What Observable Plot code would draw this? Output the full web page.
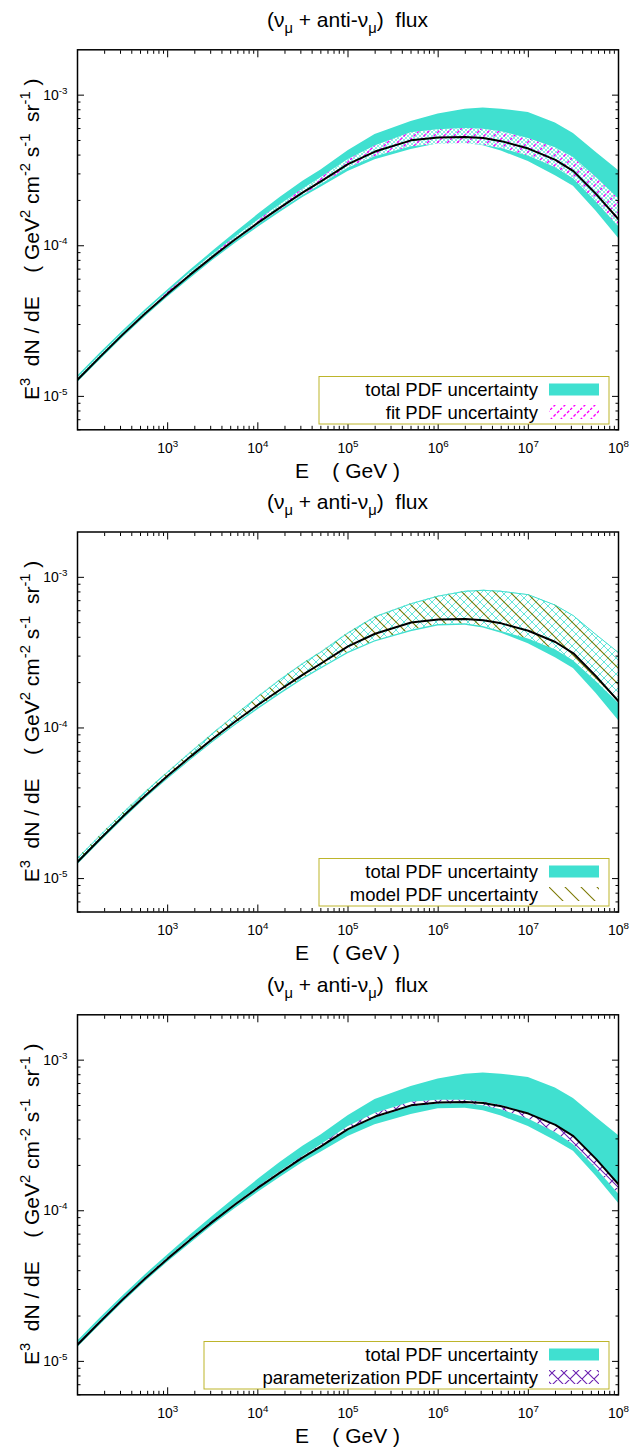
<!DOCTYPE html>
<html>
<head>
<meta charset="utf-8">
<script src="https://cdn.jsdelivr.net/npm/d3@7"></script>
<script src="https://cdn.jsdelivr.net/npm/@observablehq/plot@0.6"></script>
<style>
  body { margin: 0; background: #fff; }
  #chart { width: 630px; position: relative; }
  #chart svg.plotsvg { display: block; overflow: visible; }
</style>
</head>
<body>
<svg width="0" height="0" style="position:absolute" id="defs-holder"><defs id="pat-defs"></defs></svg>
<div id="chart"></div>
<script>
// ---------------- data ----------------
const energy     = [100, 177.8, 316.2, 562.3, 1e3, 1778, 3162, 5623, 1e4, 1.778e4, 3.162e4, 5.012e4, 1e5, 1.995e5, 5.012e5, 1e6, 1.995e6, 3.162e6, 5.012e6, 1e7, 1.995e7, 3.162e7, 5.623e7, 1e8];
const central    = [1.29e-5, 1.83e-5, 2.57e-5, 3.55e-5, 4.81e-5, 6.43e-5, 8.47e-5, 1.104e-4, 1.42e-4, 1.80e-4, 2.26e-4, 2.68e-4, 3.48e-4, 4.22e-4, 5.01e-4, 5.24e-4, 5.28e-4, 5.19e-4, 4.95e-4, 4.42e-4, 3.72e-4, 3.13e-4, 2.21e-4, 1.50e-4];
const totalHigh  = [1.36e-5, 1.93e-5, 2.71e-5, 3.75e-5, 5.09e-5, 6.87e-5, 9.18e-5, 1.22e-4, 1.61e-4, 2.10e-4, 2.68e-4, 3.19e-4, 4.27e-4, 5.47e-4, 6.68e-4, 7.50e-4, 8.07e-4, 8.20e-4, 8.07e-4, 7.67e-4, 6.53e-4, 5.56e-4, 4.17e-4, 3.16e-4];
const totalLow   = [1.23e-5, 1.74e-5, 2.44e-5, 3.37e-5, 4.55e-5, 6.05e-5, 7.98e-5, 1.035e-4, 1.32e-4, 1.67e-4, 2.09e-4, 2.45e-4, 3.11e-4, 3.72e-4, 4.35e-4, 4.75e-4, 4.80e-4, 4.61e-4, 4.25e-4, 3.63e-4, 2.92e-4, 2.48e-4, 1.70e-4, 1.12e-4];
const fitHigh    = [1.32e-5, 1.87e-5, 2.62e-5, 3.62e-5, 4.92e-5, 6.59e-5, 8.71e-5, 1.14e-4, 1.47e-4, 1.87e-4, 2.37e-4, 2.83e-4, 3.73e-4, 4.60e-4, 5.62e-4, 5.90e-4, 6.01e-4, 5.93e-4, 5.71e-4, 5.16e-4, 4.47e-4, 3.86e-4, 2.85e-4, 2.05e-4];
const fitLow     = [1.27e-5, 1.80e-5, 2.52e-5, 3.48e-5, 4.70e-5, 6.27e-5, 8.24e-5, 1.07e-4, 1.37e-4, 1.73e-4, 2.16e-4, 2.54e-4, 3.27e-4, 3.90e-4, 4.55e-4, 4.72e-4, 4.76e-4, 4.65e-4, 4.42e-4, 3.94e-4, 3.31e-4, 2.79e-4, 1.97e-4, 1.34e-4];
const modelHigh  = [1.36e-5, 1.93e-5, 2.71e-5, 3.75e-5, 5.09e-5, 6.87e-5, 9.18e-5, 1.22e-4, 1.61e-4, 2.10e-4, 2.68e-4, 3.19e-4, 4.27e-4, 5.47e-4, 6.68e-4, 7.50e-4, 8.07e-4, 8.20e-4, 8.07e-4, 7.67e-4, 6.53e-4, 5.56e-4, 4.17e-4, 3.16e-4];
const modelLow   = [1.26e-5, 1.78e-5, 2.50e-5, 3.45e-5, 4.66e-5, 6.19e-5, 8.17e-5, 1.06e-4, 1.355e-4, 1.71e-4, 2.14e-4, 2.51e-4, 3.18e-4, 3.80e-4, 4.45e-4, 4.86e-4, 4.91e-4, 4.72e-4, 4.37e-4, 3.89e-4, 3.31e-4, 2.79e-4, 2.04e-4, 1.46e-4];
const paramHigh  = [1.30e-5, 1.85e-5, 2.59e-5, 3.58e-5, 4.85e-5, 6.49e-5, 8.55e-5, 1.11e-4, 1.43e-4, 1.82e-4, 2.29e-4, 2.73e-4, 3.61e-4, 4.42e-4, 5.25e-4, 5.42e-4, 5.41e-4, 5.25e-4, 4.99e-4, 4.44e-4, 3.72e-4, 3.16e-4, 2.24e-4, 1.51e-4];
const paramLow   = [1.28e-5, 1.82e-5, 2.55e-5, 3.52e-5, 4.76e-5, 6.37e-5, 8.39e-5, 1.09e-4, 1.41e-4, 1.78e-4, 2.23e-4, 2.64e-4, 3.40e-4, 4.12e-4, 4.90e-4, 5.12e-4, 5.14e-4, 4.98e-4, 4.68e-4, 4.07e-4, 3.31e-4, 2.75e-4, 1.92e-4, 1.29e-4];

const xMajorTicks = [1e3, 1e4, 1e5, 1e6, 1e7, 1e8];
const yMajorTicks = [1e-5, 1e-4, 1e-3];
const xMinorTicks = [];
for (let k = 2; k <= 7; k++) for (let m = 2; m <= 9; m++) xMinorTicks.push(m * 10 ** k);
const yMinorTicks = [6e-6, 7e-6, 8e-6, 9e-6];
for (let k = -5; k <= -4; k++) for (let m = 2; m <= 9; m++) yMinorTicks.push(m * 10 ** k);

const titleParts  = [["(ν"], ["μ", "sub"], [" + anti-ν"], ["μ", "sub"], [")  flux"]];
const yLabelParts = [["E"], ["3", "sup"], ["  dN / dE    ( GeV"], ["2", "sup"], [" cm"], ["-2", "sup"], [" s"], ["-1", "sup"], ["  sr"], ["-1", "sup"], [" )"]];
const xLabelText  = "E    ( GeV )";
const totalLabel  = "total PDF uncertainty";

const panels = [
  {label: "fit PDF uncertainty", low: fitLow, high: fitHigh, bandFills: ["xc4", "fitSlash"], legendFill: "fitSlash", legendX: 319, edge: false},
  {label: "model PDF uncertainty", low: modelLow, high: modelHigh, bandFills: ["xc8", "modelBack"], legendFill: "modelBack", legendX: 319, edge: true},
  {label: "parameterization PDF uncertainty", low: paramLow, high: paramHigh, bandFills: ["paramX"], legendFill: "paramX", legendX: 204, edge: false}
];

// ---------------- styling ----------------
const FONT = "'Liberation Sans', Arial, Helvetica, sans-serif";
const TURQ = "#40E0D0";
const panelHeights = [482, 483, 487];
const panelTops = [49.3, 49.5, 49.3];
const innerH = 380;
const TICKFONT = 14;
const BIGFONT = 21;

function hatch(id, s, color, width, dirs, dash) {
  let d = "";
  if (dirs.includes("/")) d += `M0,${s} L${s},0 M${-s/4},${s/4} L${s/4},${-s/4} M${s*3/4},${s*5/4} L${s*5/4},${s*3/4} `;
  if (dirs.includes("\\")) d += `M0,0 L${s},${s} M${-s/4},${s*3/4} L${s/4},${s*5/4} M${s*3/4},${-s/4} L${s*5/4},${s/4} `;
  return `<pattern id="${id}" patternUnits="userSpaceOnUse" width="${s}" height="${s}"><path d="${d}" stroke="${color}" stroke-width="${width}" fill="none"${dash ? ` stroke-dasharray="${dash}"` : ""}/></pattern>`;
}
document.getElementById("pat-defs").innerHTML =
  hatch("xc4", 4, TURQ, 0.6, "/\\") +
  hatch("fitSlash", 10, "#ff00ff", 1.4, "/", "3,2") +
  hatch("xc8", 8, TURQ, 0.8, "/\\") +
  hatch("modelBack", 16, "#7d7a05", 1.1, "\\") +
  hatch("paramX", 12, "#6a1fb0", 1.1, "/\\");

function addRich(textSel, parts, base) {
  let shift = 0;
  for (const [s, kind] of parts) {
    const target = kind === "sup" ? -0.42 * base : kind === "sub" ? 0.28 * base : 0;
    const t = textSel.append("tspan").text(s);
    if (target - shift !== 0) t.attr("dy", target - shift);
    if (kind) t.attr("font-size", base * 0.7);
    shift = target;
  }
}

const expFmt = d => "10^" + Math.round(Math.log10(d));
const blank = () => "";

const chart = document.getElementById("chart");

panels.forEach((p, i) => {
  const H = panelHeights[i], mt = panelTops[i];
  const rows = energy.map((E, j) => ({E, c: central[j], tl: totalLow[j], th: totalHigh[j], bl: p.low[j], bh: p.high[j]}));
  const marks = [
    Plot.areaY(rows, {x: "E", y1: "tl", y2: "th", fill: TURQ, clip: true}),
    Plot.areaY(rows, {x: "E", y1: "bl", y2: "bh", fill: "white", clip: true}),
    ...p.bandFills.map(f => Plot.areaY(rows, {x: "E", y1: "bl", y2: "bh", fill: `url(#${f})`, clip: true})),
    ...(p.edge ? [Plot.lineY(rows, {x: "E", y: "bh", stroke: TURQ, strokeWidth: 1, clip: true})] : []),
    Plot.lineY(rows, {x: "E", y: "c", stroke: "black", strokeWidth: 2, clip: true}),
    Plot.axisX(xMinorTicks, {anchor: "bottom", tickSize: -3.5, tickFormat: blank, label: null}),
    Plot.axisX(xMinorTicks, {anchor: "top", tickSize: -3.5, tickFormat: blank, label: null}),
    Plot.axisX(xMajorTicks, {anchor: "top", tickSize: -7, tickFormat: blank, label: null}),
    Plot.axisX(xMajorTicks, {anchor: "bottom", tickSize: -7, tickPadding: 20, tickFormat: expFmt, fontSize: TICKFONT, label: null}),
    Plot.axisY(yMinorTicks, {anchor: "left", tickSize: -3.5, tickFormat: blank, label: null}),
    Plot.axisY(yMinorTicks, {anchor: "right", tickSize: -3.5, tickFormat: blank, label: null}),
    Plot.axisY(yMajorTicks, {anchor: "right", tickSize: -7, tickFormat: blank, label: null}),
    Plot.axisY(yMajorTicks, {anchor: "left", tickSize: -7, tickPadding: 17, tickFormat: expFmt, fontSize: TICKFONT, label: null}),
    Plot.frame({stroke: "black", strokeWidth: 1.5})
  ];
  const svg = Plot.plot({
    width: 630, height: H,
    marginTop: mt, marginBottom: H - mt - innerH, marginLeft: 77, marginRight: 12,
    x: {type: "log", domain: [1e2, 1e8], label: null},
    y: {type: "log", domain: [6e-6, 2e-3], label: null},
    style: {fontFamily: FONT, background: "white", color: "black"},
    marks
  });
  svg.classList.add("plotsvg");
  const sel = d3.select(svg);

  // superscript tick labels
  sel.selectAll("g[aria-label$='tick label'] text").each(function () {
    const m = /^10\^(-?\d+)$/.exec(this.textContent);
    if (!m) return;
    this.textContent = "";
    addRich(d3.select(this), [["10"], [m[1], "sup"]], TICKFONT);
  });

  // title
  const title = sel.append("text").attr("x", 347.5).attr("y", 27).attr("text-anchor", "middle")
    .attr("font-size", BIGFONT).attr("font-family", FONT).attr("fill", "black").style("white-space", "pre");
  addRich(title, titleParts, BIGFONT);

  // x label
  sel.append("text").attr("x", 347.5).attr("y", 478).attr("text-anchor", "middle")
    .attr("font-size", BIGFONT).attr("font-family", FONT).attr("fill", "black").style("white-space", "pre")
    .text(xLabelText);

  // y label
  const yl = sel.append("text").attr("transform", `translate(39,${mt + innerH / 2}) rotate(-90)`)
    .attr("text-anchor", "middle").attr("font-size", BIGFONT).attr("font-family", FONT).attr("fill", "black")
    .style("white-space", "pre");
  addRich(yl, yLabelParts, BIGFONT);

  // legend
  const lg = sel.append("g").attr("font-family", FONT).attr("font-size", 18.5);
  lg.append("rect").attr("x", p.legendX).attr("y", 376.5).attr("width", 609 - p.legendX).attr("height", 47.5)
    .attr("fill", "white").attr("stroke", "#bdb52b").attr("stroke-width", 1);
  lg.append("text").attr("x", 538).attr("y", 395.8).attr("text-anchor", "end").attr("fill", "black").text(totalLabel);
  lg.append("rect").attr("x", 549).attr("y", 383.5).attr("width", 50).attr("height", 12).attr("fill", TURQ);
  lg.append("text").attr("x", 538).attr("y", 419).attr("text-anchor", "end").attr("fill", "black").text(p.label);
  lg.append("rect").attr("x", 549).attr("y", 405).attr("width", 50).attr("height", 14).attr("fill", `url(#${p.legendFill})`);

  chart.appendChild(svg);
});
</script>
</body>
</html>
